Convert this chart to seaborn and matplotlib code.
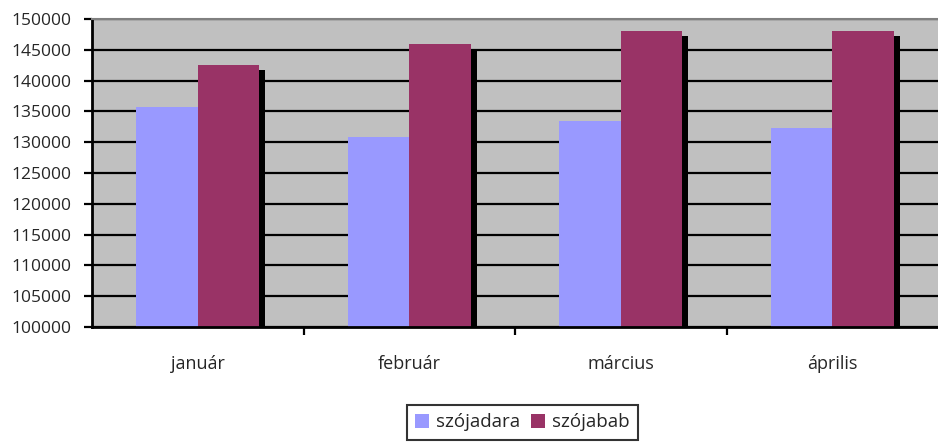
import pandas as pd
import matplotlib.pyplot as plt
import matplotlib.patheffects as pe
from matplotlib.ticker import MultipleLocator, FixedLocator
import seaborn as sns

# Data
honapok = ["január", "február", "március", "április"]
szojadara = [135700, 130800, 133400, 132300]
szojabab = [142500, 145900, 148000, 148000]
sorozatok = ["szójadara", "szójabab"]
szinek = ["#9999FF", "#993366"]

df = pd.DataFrame({
    "honap": honapok * 2,
    "termek": [sorozatok[0]] * 4 + [sorozatok[1]] * 4,
    "ertek": szojadara + szojabab,
})

sns.set_style("white")
plt.rcParams["font.family"] = ["Open Sans", "DejaVu Sans"]

fig = plt.figure(figsize=(9.38, 4.42), dpi=100)
ax = fig.add_axes([92 / 938, 1 - 327 / 442, 1 - 92 / 938, 308 / 442])
ax.set_facecolor("#C0C0C0")

sns.barplot(data=df, x="honap", y="ertek", hue="termek", order=honapok,
            hue_order=sorozatok, palette=szinek, width=0.58, saturation=1,
            edgecolor="none", linewidth=0, ax=ax)

# Excel-style drop shadow
arnyek = [pe.SimplePatchShadow(offset=(4.3, -3.6), shadow_rgbFace="black", alpha=1.0), pe.Normal()]
for p in ax.patches:
    p.set_path_effects(arnyek)

ax.set_ylim(100000, 150000)
ax.set_xlim(-0.5, 3.5)
ax.yaxis.set_major_locator(MultipleLocator(5000))
ax.yaxis.grid(True, color="black", linewidth=1.6)
ax.set_axisbelow(True)

ax.set_xlabel("")
ax.set_ylabel("")
ax.tick_params(axis="y", which="major", direction="out", length=6, width=1.6,
               color="black", pad=9, labelsize=12.5, left=True)
ax.tick_params(axis="x", which="major", length=0, pad=20, labelsize=13)
ax.xaxis.set_minor_locator(FixedLocator([0.5, 1.5, 2.5]))
ax.tick_params(axis="x", which="minor", direction="out", length=6, width=1.6,
               color="black", bottom=True)

for s in ["left", "bottom"]:
    ax.spines[s].set_color("black")
    ax.spines[s].set_linewidth(2)
ax.spines["top"].set_color("#808080")
ax.spines["top"].set_linewidth(1.5)
ax.spines["right"].set_visible(False)

ax.legend_.remove()
h, l = ax.get_legend_handles_labels()
leg = fig.legend(h, l, loc="upper center", bbox_to_anchor=(522.5 / 938, 1 - 405 / 442), ncol=2,
                 frameon=True, fancybox=False, edgecolor="black", fontsize=13.5,
                 handlelength=0.75, handleheight=0.75, handletextpad=0.35,
                 columnspacing=0.6, borderpad=0.45, borderaxespad=0)
leg.get_frame().set_linewidth(1.5)
for hh in leg.legend_handles:
    hh.set_path_effects([])

fig.savefig("out.png", dpi=100)
